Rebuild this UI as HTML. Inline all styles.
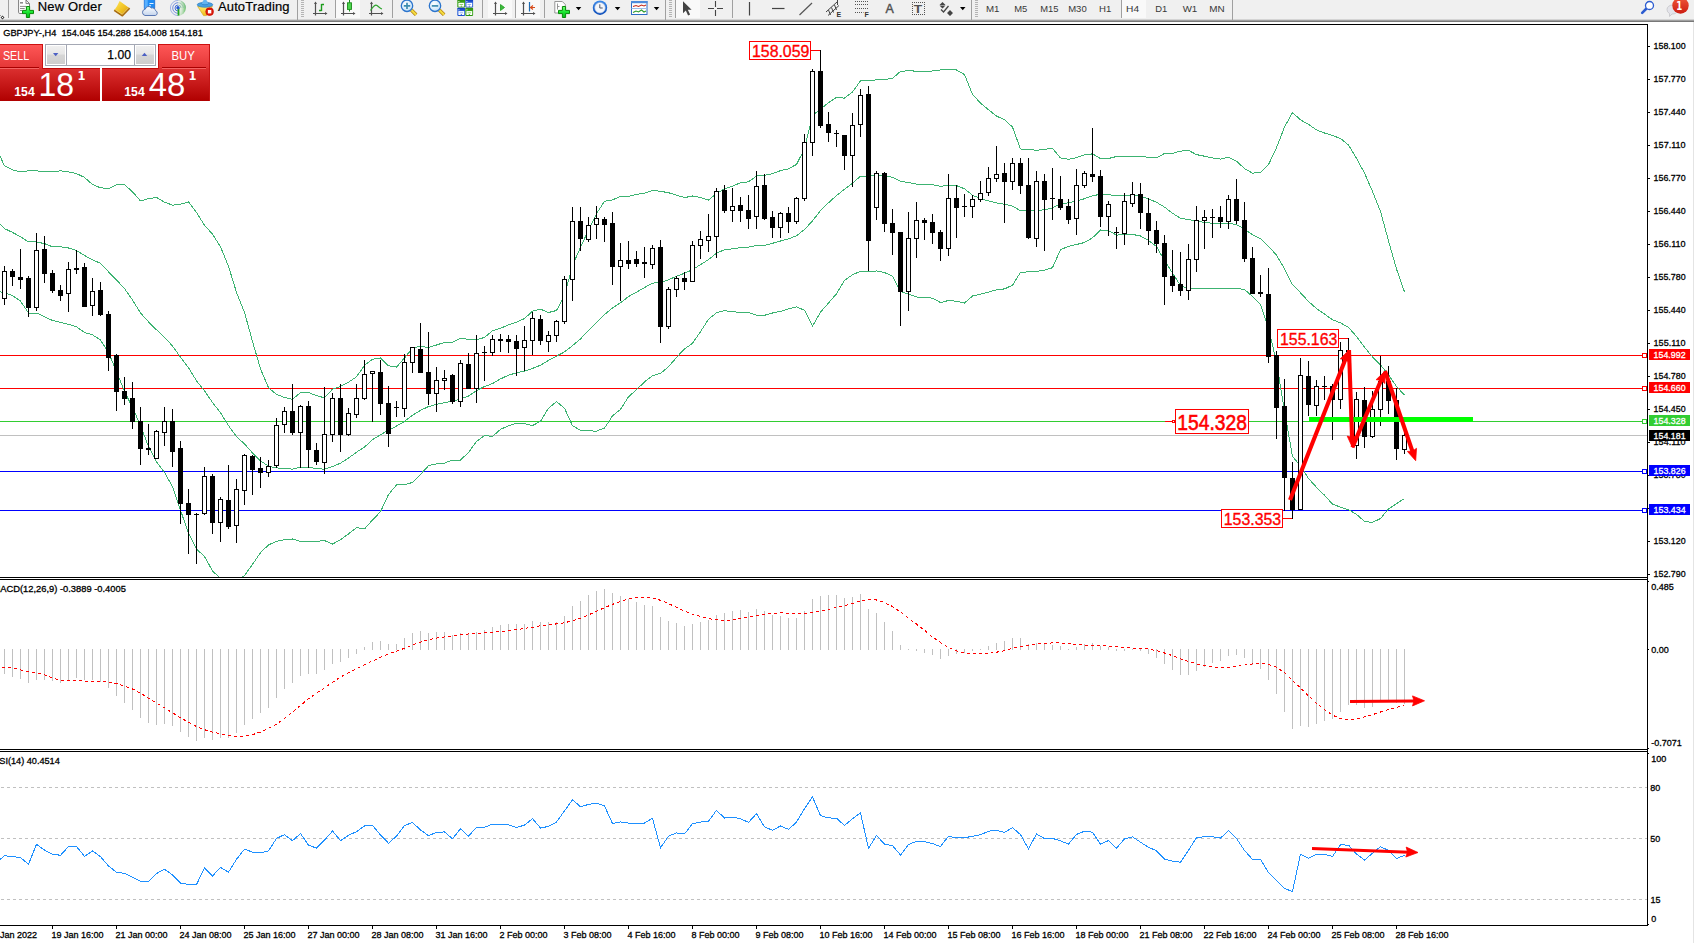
<!DOCTYPE html>
<html><head><meta charset="utf-8"><title>GBPJPY-,H4</title>
<style>
html,body{margin:0;padding:0;background:#fff;}
body{width:1694px;height:943px;overflow:hidden;position:relative;font-family:"Liberation Sans",sans-serif;font-size:9px;color:#000;}
#tb{position:absolute;left:0;top:0;width:1694px;height:24px;overflow:hidden;}
#tb text{font-family:"Liberation Sans",sans-serif;}
#ch{position:absolute;left:0;top:0;}
#ch text{font-family:"Liberation Sans",sans-serif;}
</style></head><body>
<div id="tb"><svg id="tbs" width="1694" height="24" viewBox="0 0 1694 24" style="position:absolute;left:0;top:0">
<defs><linearGradient id="gp" x1="0" y1="0" x2="0" y2="1"><stop offset="0" stop-color="#7cff7c"/><stop offset="0.5" stop-color="#18e830"/><stop offset="1" stop-color="#04b818"/></linearGradient><linearGradient id="gy" x1="0" y1="0" x2="1" y2="1"><stop offset="0" stop-color="#ffe85c"/><stop offset="0.55" stop-color="#f0c020"/><stop offset="1" stop-color="#c88c18"/></linearGradient><linearGradient id="gb" x1="0" y1="0" x2="0" y2="1"><stop offset="0" stop-color="#0c38b4"/><stop offset="0.4" stop-color="#2c64e0"/><stop offset="1" stop-color="#1c50d0"/></linearGradient><linearGradient id="gr" x1="0" y1="0" x2="0" y2="1"><stop offset="0" stop-color="#f0583a"/><stop offset="1" stop-color="#cc1c10"/></linearGradient><linearGradient id="gg" x1="0" y1="0" x2="0" y2="1"><stop offset="0" stop-color="#2c8c10"/><stop offset="0.4" stop-color="#3ca818"/><stop offset="1" stop-color="#2c9810"/></linearGradient><radialGradient id="gl" cx="0.4" cy="0.35" r="0.7"><stop offset="0" stop-color="#ffffff"/><stop offset="1" stop-color="#bfe0f8"/></radialGradient><linearGradient id="gc" x1="0" y1="0" x2="0" y2="1"><stop offset="0" stop-color="#ffffff"/><stop offset="1" stop-color="#c4d4ec"/></linearGradient><radialGradient id="gs" cx="0" cy="0.5" r="1"><stop offset="0" stop-color="#ffffff" stop-opacity="0"/><stop offset="1" stop-color="#48b448"/></radialGradient><linearGradient id="gf" x1="0" y1="0" x2="0" y2="1"><stop offset="0" stop-color="#ffec70"/><stop offset="1" stop-color="#f0bc18"/></linearGradient><linearGradient id="gb2" x1="0" y1="0" x2="0" y2="1"><stop offset="0" stop-color="#3c8cec"/><stop offset="1" stop-color="#0c4cb8"/></linearGradient></defs>
<rect x="0" y="0" width="1694" height="20" fill="#f0f0f0"/>
<rect x="0" y="19" width="1694" height="1" fill="#d4d4d4"/>
<rect x="0" y="20" width="1694" height="1" fill="#a0a0a0"/>
<rect x="0" y="21" width="1694" height="1" fill="#787878"/>
<rect x="0" y="22" width="1694" height="2" fill="#ffffff"/>
<rect x="336" y="0" width="24" height="18" fill="#f9f9f9"/>
<rect x="488" y="0" width="24" height="18" fill="#f9f9f9"/>
<rect x="516" y="0" width="24" height="18" fill="#f9f9f9"/>
<rect x="676" y="0" width="24" height="18" fill="#f9f9f9"/>
<rect x="1122" y="0" width="24" height="18" fill="#f9f9f9"/>
<rect x="8" y="0" width="1" height="18" fill="#a0a0a0"/>
<rect x="335" y="0" width="1" height="18" fill="#a0a0a0"/>
<rect x="392" y="0" width="1" height="18" fill="#a0a0a0"/>
<rect x="482" y="0" width="1" height="18" fill="#a0a0a0"/>
<rect x="515" y="0" width="1" height="18" fill="#a0a0a0"/>
<rect x="544" y="0" width="1" height="18" fill="#a0a0a0"/>
<rect x="675" y="0" width="1" height="18" fill="#a0a0a0"/>
<rect x="732" y="0" width="1" height="18" fill="#a0a0a0"/>
<rect x="1121" y="0" width="1" height="18" fill="#a0a0a0"/>
<rect x="297" y="0" width="1" height="20" fill="#a0a0a0"/>
<rect x="665" y="0" width="1" height="20" fill="#a0a0a0"/>
<rect x="971" y="0" width="1" height="20" fill="#a0a0a0"/>
<rect x="1232" y="0" width="1" height="20" fill="#a0a0a0"/>
<path d="M301 0h3v1h-3zM301 2h3v1h-3zM301 4h3v1h-3zM301 6h3v1h-3zM301 8h3v1h-3zM301 10h3v1h-3zM301 12h3v1h-3zM301 14h3v1h-3zM301 16h3v1h-3z" fill="#b4b4b4" shape-rendering="crispEdges"/>
<path d="M669 0h3v1h-3zM669 2h3v1h-3zM669 4h3v1h-3zM669 6h3v1h-3zM669 8h3v1h-3zM669 10h3v1h-3zM669 12h3v1h-3zM669 14h3v1h-3zM669 16h3v1h-3z" fill="#b4b4b4" shape-rendering="crispEdges"/>
<path d="M975 0h3v1h-3zM975 2h3v1h-3zM975 4h3v1h-3zM975 6h3v1h-3zM975 8h3v1h-3zM975 10h3v1h-3zM975 12h3v1h-3zM975 14h3v1h-3zM975 16h3v1h-3z" fill="#b4b4b4" shape-rendering="crispEdges"/>
<path d="M0 15l1 0 0 1zM2.5 15.5l2 2-2 2-2-2z" fill="#444"/><rect x="2" y="17" width="1" height="1" fill="#fff"/>
<path d="M18.600 -1V12.300Q18.600 13.500 19.800 13.500H27V6H29.600V3.600L26.200 0V-1z" fill="#fff"/>
<path d="M18.600 -1V12.300Q18.600 13.500 19.800 13.500H23M29.500 3.800V7M26 -1V3.600H29.500L26 0" fill="none" stroke="#7c7c7c" stroke-width="1"/>
<path d="M20 2h3v1.600h-3z" fill="#8c8c8c"/><path d="M20 6.400h6M20 8.500h4.700M20 10.500h2" stroke="#8c8c8c" stroke-width="1" fill="none"/>
<path d="M26.4 6.5h3.2v3.9h3.9v3.2h-3.9v3.9h-3.2v-3.9h-3.9v-3.2h3.9z" fill="url(#gp)" stroke="#078a07" stroke-width="1"/>
<text x="37.8" y="11.1" font-size="13" fill="#000" stroke="#000" stroke-width="0.2" textLength="64" lengthAdjust="spacing">New Order</text>
<path d="M119.600 1Q117.500 6 114.200 10.300L122.400 15.700L129.600 8.200z" fill="url(#gy)"/>
<path d="M114.200 10.300L122.400 15.700L129.600 8.200" fill="none" stroke="#a86c10" stroke-width="1.700" stroke-linejoin="round"/>
<path d="M115.300 9.800L122.300 14.300L128.300 8" fill="none" stroke="#f4d880" stroke-width="0.700"/>
<rect x="144.300" y="-1" width="10.400" height="10" rx="0.800" fill="#1e8cf4" stroke="#1460c8" stroke-width="0.700"/><path d="M144.700 -1h3v9.500h-3z" fill="#58b0ff"/><path d="M149.500 3.500h4M149 5.800h2" stroke="#e8f4ff" stroke-width="1"/>
<path d="M145 15.500a3.200 3.200 0 0 1 0.300-6.300a3.300 3.300 0 0 1 6-1.200a3.400 3.400 0 0 1 4.300 2.700a2.500 2.500 0 0 1-0.300 4.800z" fill="url(#gc)" stroke="#4c6cac" stroke-width="0.900"/>
<path d="M178 8L178 15.800A7.800 7.800 0 0 0 185.800 8A7.800 7.800 0 0 0 181 0.800z" fill="url(#gs)" opacity="0.85"/>
<path d="M178 0.40000000000000036A7.6 7.6 0 0 0 178 15.6" fill="none" stroke="#3c64d4" stroke-width="1" opacity="0.45"/>
<path d="M178 0.40000000000000036A7.6 7.6 0 0 1 185.6 8" fill="none" stroke="#7cb0a0" stroke-width="1" opacity="0.36"/>
<path d="M178 2.7A5.3 5.3 0 0 0 178 13.3" fill="none" stroke="#3c64d4" stroke-width="1" opacity="0.7"/>
<path d="M178 2.7A5.3 5.3 0 0 1 183.3 8" fill="none" stroke="#7cb0a0" stroke-width="1" opacity="0.56"/>
<path d="M178 5A3 3 0 0 0 178 11" fill="none" stroke="#3c64d4" stroke-width="1" opacity="0.9"/>
<path d="M178 5A3 3 0 0 1 181 8" fill="none" stroke="#7cb0a0" stroke-width="1" opacity="0.72"/>
<path d="M178.500 8V15.600" stroke="#20a420" stroke-width="1.800"/><circle cx="178" cy="7.800" r="1.700" fill="#2458d0"/>
<path d="M197.600 6.300L203.500 15.600H206.500L212.400 6.300z" fill="url(#gf)" stroke="#d0a010" stroke-width="0.600"/>
<ellipse cx="205" cy="4.800" rx="7.800" ry="2.500" fill="#48a0e0" stroke="#2474bc" stroke-width="0.600"/><path d="M201.800 4.500Q202.500 -0.500 205 -0.500T208.200 4.500z" fill="#64b4f0"/><path d="M201.400 3.500a3.600 1.300 0 0 0 7.200 0" fill="none" stroke="#2474bc" stroke-width="0.600"/>
<circle cx="209.600" cy="11.700" r="4.100" fill="#e01c0c"/><circle cx="209.600" cy="11.700" r="3.600" fill="none" stroke="#b81004" stroke-width="0.500"/><rect x="207.900" y="10" width="3.400" height="3.400" fill="#fff"/>
<text x="218" y="10.700" font-size="13" fill="#000" stroke="#000" stroke-width="0.2" textLength="71.500" lengthAdjust="spacing">AutoTrading</text>
<path d="M315.5 2.500V15.500M313 13.500H326.5" stroke="#505050" stroke-width="1.200" fill="none"/>
<path d="M314 4l1.500-2.500 1.500 2.500zM325 12l2.500 1.500-2.500 1.500z" fill="#505050"/>
<path d="M321.500 4v7M321.500 4.500h2.500M319 10.500h2.500" stroke="#1c9c1c" stroke-width="1.400" fill="none"/>
<path d="M343.5 2.500V15.500M341 13.500H354.5" stroke="#505050" stroke-width="1.200" fill="none"/>
<path d="M342 4l1.500-2.500 1.500 2.500zM353 12l2.500 1.500-2.500 1.500z" fill="#505050"/>
<path d="M349.500 0v11.500" stroke="#1c8c1c" stroke-width="1"/><rect x="347.500" y="2.800" width="4" height="6.600" fill="#4cd44c" stroke="#1c8c1c" stroke-width="0.9"/>
<path d="M371.5 2.500V15.500M369 13.500H382.5" stroke="#505050" stroke-width="1.200" fill="none"/>
<path d="M370 4l1.500-2.500 1.500 2.500zM381 12l2.500 1.500-2.500 1.500z" fill="#505050"/>
<path d="M370.500 10.500C373 6 375.500 4.500 377 5.500S380 8.500 382 9" stroke="#2ca42c" stroke-width="1.200" fill="none"/>
<path d="M411.3 10l4.800 4.700" stroke="#b07c0c" stroke-width="3.600" stroke-linecap="butt"/><path d="M411.3 10l4.800 4.700" stroke="#f4dc40" stroke-width="2.200" stroke-linecap="butt"/>
<circle cx="407" cy="5.800" r="5.700" fill="url(#gl)" stroke="#2c74cc" stroke-width="1.300"/>
<path d="M403.8 5.900h6.400M407 2.700v6.400" stroke="#3c8cb0" stroke-width="1.700"/>
<path d="M439.3 10l4.800 4.700" stroke="#b07c0c" stroke-width="3.600" stroke-linecap="butt"/><path d="M439.3 10l4.800 4.700" stroke="#f4dc40" stroke-width="2.200" stroke-linecap="butt"/>
<circle cx="435" cy="5.800" r="5.700" fill="url(#gl)" stroke="#2c74cc" stroke-width="1.300"/>
<path d="M431.8 5.900h6.400" stroke="#3c8cb0" stroke-width="1.700"/>
<rect x="457.3" y="-0.5" width="7.800" height="8.100" rx="0.800" fill="url(#gg)"/><rect x="458.40000000000003" y="2.8" width="5.800" height="3.900" fill="#fff"/><rect x="459.5" y="4.0" width="3.600" height="1" fill="#90d070"/><rect x="458.40000000000003" y="1.0" width="1" height="1" fill="#e8f0e8"/><rect x="460.8" y="5.7" width="1" height="1" fill="url(#gg)"/>
<rect x="465.3" y="-0.5" width="7.800" height="8.100" rx="0.800" fill="url(#gb)"/><rect x="466.40000000000003" y="2.8" width="5.800" height="3.900" fill="#fff"/><rect x="467.5" y="4.0" width="3.600" height="1" fill="#90b0f0"/><rect x="466.40000000000003" y="1.0" width="1" height="1" fill="#e8f0e8"/><rect x="468.8" y="5.7" width="1" height="1" fill="url(#gb)"/>
<rect x="457.3" y="7.8" width="7.800" height="8.100" rx="0.800" fill="url(#gb)"/><rect x="458.40000000000003" y="11.1" width="5.800" height="3.900" fill="#fff"/><rect x="459.5" y="12.3" width="3.600" height="1" fill="#90b0f0"/><rect x="458.40000000000003" y="9.3" width="1" height="1" fill="#e8f0e8"/><rect x="460.8" y="14.0" width="1" height="1" fill="url(#gb)"/>
<rect x="465.3" y="7.8" width="7.800" height="8.100" rx="0.800" fill="url(#gg)"/><rect x="466.40000000000003" y="11.1" width="5.800" height="3.900" fill="#fff"/><rect x="467.5" y="12.3" width="3.600" height="1" fill="#90d070"/><rect x="466.40000000000003" y="9.3" width="1" height="1" fill="#e8f0e8"/><rect x="468.8" y="14.0" width="1" height="1" fill="url(#gg)"/>
<path d="M495.5 2.500V15.500M493 13.500H506.5" stroke="#505050" stroke-width="1.200" fill="none"/>
<path d="M494 4l1.500-2.500 1.500 2.500zM505 12l2.500 1.500-2.500 1.500z" fill="#505050"/>
<path d="M500.500 4.500l4 3-4 3z" fill="#3cbc3c" stroke="#1c9c1c" stroke-width="0.8"/>
<path d="M523.5 2.500V15.500M521 13.500H534.5" stroke="#505050" stroke-width="1.200" fill="none"/>
<path d="M522 4l1.500-2.500 1.500 2.500zM533 12l2.500 1.500-2.500 1.500z" fill="#505050"/>
<path d="M529.500 2v9.500" stroke="#1c6cb4" stroke-width="1.200"/><path d="M530.500 7.500h4.500M533 5.500l-2.500 2 2.500 2" stroke="#d84c1c" stroke-width="1.200" fill="none"/>
<path d="M554.800 1.500h7.500l3 3v8.500h-10.500z" fill="#fff" stroke="#8c8c8c" stroke-width="0.9"/><path d="M557.500 3.500v6M557.500 6.500h2" stroke="#8c8c8c" stroke-width="0.9" fill="none"/>
<path d="M562.4 6.5h3.2v3.9h3.9v3.2h-3.9v3.9h-3.2v-3.9h-3.9v-3.2h3.9z" fill="url(#gp)" stroke="#078a07" stroke-width="1"/>
<path d="M575.8 7h5.500l-2.750 3.200z" fill="#000"/>
<circle cx="600" cy="7.700" r="7.200" fill="url(#gb2)"/><circle cx="600" cy="7.700" r="5.300" fill="#f4f6fa" stroke="#9cb4dc" stroke-width="0.600"/><path d="M599.800 4.300v3.700h2.900" stroke="#505868" stroke-width="1" fill="none"/>
<path d="M614.8 7h5.500l-2.750 3.200z" fill="#000"/>
<rect x="631.500" y="1.500" width="15.500" height="13" fill="#fff" stroke="#2c6cc4" stroke-width="1"/><rect x="631" y="1" width="16.500" height="2.200" fill="#4c8cdc"/><path d="M631.500 8.500h15.500" stroke="#9cbce8" stroke-width="1"/>
<path d="M633 6.500l3-1 2.500 1 3-1.500 2.500 1 2-1" stroke="#c42c1c" stroke-width="1.100" fill="none"/><path d="M633 12.500l3-1.500 2.500 1 3-2 2.500 2 2-1" stroke="#2c9c2c" stroke-width="1.100" fill="none"/>
<path d="M653.8 7h5.500l-2.750 3.200z" fill="#000"/>
<path d="M683 1.200v12l2.800-2.600 2.300 4.800 2-1-2.300-4.700h3.800z" fill="#444"/>
<path d="M708 8.500h6M717 8.500h6M715.500 1v6M715.500 10v6" stroke="#444" stroke-width="1.100" fill="none"/>
<path d="M749.500 2v13.500" stroke="#444" stroke-width="1.200"/><path d="M772 8.500h12.500" stroke="#444" stroke-width="1.200"/><path d="M799.500 15l12.500-12" stroke="#555" stroke-width="1.200"/>
<path d="M826 12l11-10M828 15.500l11-10M828.500 10l2 5M831.500 7.500l2 5M834.500 5l2 5M837.500 0v5" stroke="#444" stroke-width="1" fill="none"/>
<text x="836.500" y="17" font-size="7" font-weight="bold" fill="#333">E</text>
<path d="M855 1.5H868.5" stroke="#555" stroke-width="1" stroke-dasharray="1 1"/>
<path d="M855 4.5H868.5" stroke="#555" stroke-width="1" stroke-dasharray="1 1"/>
<path d="M855 8.5H868.5" stroke="#555" stroke-width="1" stroke-dasharray="1 1"/>
<path d="M855 12.5H863.5" stroke="#555" stroke-width="1" stroke-dasharray="1 1"/>
<text x="864.500" y="17" font-size="7" font-weight="bold" fill="#333">F</text>
<text x="885.500" y="12.800" font-size="12.500" fill="#505050" stroke="#505050" stroke-width="0.400" textLength="8.300" lengthAdjust="spacingAndGlyphs">A</text>
<path d="M912 2h1v1h-1zM912 14h1v1h-1zM914 2h1v1h-1zM914 14h1v1h-1zM916 2h1v1h-1zM916 14h1v1h-1zM918 2h1v1h-1zM918 14h1v1h-1zM920 2h1v1h-1zM920 14h1v1h-1zM922 2h1v1h-1zM922 14h1v1h-1zM924 2h1v1h-1zM924 14h1v1h-1zM912 4h1v1h-1zM924 4h1v1h-1zM912 6h1v1h-1zM924 6h1v1h-1zM912 8h1v1h-1zM924 8h1v1h-1zM912 10h1v1h-1zM924 10h1v1h-1zM912 12h1v1h-1zM924 12h1v1h-1z" fill="#555" shape-rendering="crispEdges"/><text x="913.800" y="13" font-size="11.500" font-weight="bold" fill="#505050" textLength="8.400" lengthAdjust="spacingAndGlyphs">T</text>
<path d="M942.500 2l3 3h-6zM942.500 8.500l-3-3h6z" fill="#444"/><path d="M950 10l3 3h-6zM950 16l-3-3h6z" fill="#444"/><path d="M941 9.500l2.500 2.500 5-6" stroke="#444" stroke-width="1.300" fill="none"/>
<path d="M960 7h5.500l-2.750 3.200z" fill="#000"/>
<text x="986.0" y="12" font-size="9.800" fill="#383838" textLength="13.5" lengthAdjust="spacingAndGlyphs">M1</text>
<text x="1014.2" y="12" font-size="9.800" fill="#383838" textLength="13.1" lengthAdjust="spacingAndGlyphs">M5</text>
<text x="1040.3" y="12" font-size="9.800" fill="#383838" textLength="18.2" lengthAdjust="spacingAndGlyphs">M15</text>
<text x="1068.2" y="12" font-size="9.800" fill="#383838" textLength="18.5" lengthAdjust="spacingAndGlyphs">M30</text>
<text x="1099.0" y="12" font-size="9.800" fill="#383838" textLength="12.3" lengthAdjust="spacingAndGlyphs">H1</text>
<text x="1126.1" y="12" font-size="9.800" fill="#383838" textLength="13.0" lengthAdjust="spacingAndGlyphs">H4</text>
<text x="1155.3" y="12" font-size="9.800" fill="#383838" textLength="12.0" lengthAdjust="spacingAndGlyphs">D1</text>
<text x="1182.7" y="12" font-size="9.800" fill="#383838" textLength="14.6" lengthAdjust="spacingAndGlyphs">W1</text>
<text x="1209.2" y="12" font-size="9.800" fill="#383838" textLength="15.4" lengthAdjust="spacingAndGlyphs">MN</text>
<path d="M1646.500 8.500l-4.300 4.300" stroke="#2c5cd0" stroke-width="2.600" stroke-linecap="round"/><circle cx="1649.500" cy="5.500" r="4" fill="#fff" stroke="#2c5cd0" stroke-width="1.300"/>
<path d="M1667 9.500a5.500 4.500 0 0 1 11 0a5.500 4.500 0 0 1-6 4.500l-2.500 2.500v-3a5.500 4.500 0 0 1-2.500-4z" fill="#e4e4ea" stroke="#c4c4c8" stroke-width="0.8"/>
<circle cx="1680.500" cy="5.500" r="8.200" fill="url(#gr)"/>
<text x="1676.300" y="9.900" font-size="12.500" font-weight="bold" fill="#fff" textLength="6" lengthAdjust="spacingAndGlyphs" style="font-family:'DejaVu Sans','Liberation Sans',sans-serif">1</text>
</svg></div>
<svg id="ch" width="1694" height="943" viewBox="0 0 1694 943" shape-rendering="crispEdges">
<rect x="0" y="24" width="1648" height="1" fill="#000"/>
<rect x="1647" y="24" width="1" height="902" fill="#000"/>
<rect x="0" y="577" width="1648" height="1" fill="#000"/>
<rect x="0" y="579" width="1648" height="1" fill="#000"/>
<rect x="0" y="749" width="1648" height="1" fill="#000"/>
<rect x="0" y="751" width="1648" height="1" fill="#000"/>
<rect x="0" y="925" width="1648" height="1" fill="#000"/>
<rect x="1693" y="22" width="1" height="921" fill="#e4e4e4"/>
<defs><clipPath id="cm"><rect x="0" y="25" width="1647" height="552"/></clipPath><clipPath id="c2"><rect x="0" y="580" width="1647" height="169"/></clipPath><clipPath id="c3"><rect x="0" y="752" width="1647" height="173"/></clipPath></defs>
<g clip-path="url(#cm)">
<rect x="0" y="355" width="1647" height="1" fill="#ff0000"/>
<rect x="0" y="388" width="1647" height="1" fill="#ff0000"/>
<rect x="0" y="421" width="1647" height="1" fill="#32cd32"/>
<rect x="0" y="471" width="1647" height="1" fill="#0000ff"/>
<rect x="0" y="510" width="1647" height="1" fill="#0000ff"/>
<rect x="0" y="435" width="1647" height="1" fill="#c0c0c0"/>
<polyline points="-3.5,148.5 4.5,165.9 12.5,169.9 20.5,171.8 28.5,170.8 36.5,170.8 44.5,171.8 52.5,171.8 60.5,170.8 68.5,171.8 76.5,173.6 84.5,177.4 92.5,184.5 100.5,187.8 108.5,188.6 116.5,184.6 124.5,184.6 132.5,191.8 140.5,200.9 148.5,198.6 156.5,197.5 164.5,202.1 172.5,205.2 180.5,204.2 188.5,201.9 196.5,212.5 204.5,225.3 212.5,234.1 220.5,246.8 228.5,266.3 236.5,292.3 244.5,312.5 252.5,341.4 260.5,368.9 268.5,387.6 276.5,394.5 284.5,397.4 292.5,399.3 300.5,392.5 308.5,392.5 316.5,395.7 324.5,397.8 332.5,389.1 340.5,386.4 348.5,382.2 356.5,376.8 364.5,365.4 372.5,359.2 380.5,357.9 388.5,365.8 396.5,367.1 404.5,358.0 412.5,348.2 420.5,346.2 428.5,347.6 436.5,345.0 444.5,342.4 452.5,342.4 460.5,338.1 468.5,339.5 476.5,339.8 484.5,337.4 492.5,330.7 500.5,328.3 508.5,324.8 516.5,322.2 524.5,318.6 532.5,311.2 540.5,309.2 548.5,312.5 556.5,310.5 564.5,295.6 572.5,265.5 580.5,247.4 588.5,230.1 596.5,213.7 604.5,201.3 612.5,200.0 620.5,196.2 628.5,196.3 636.5,194.4 644.5,193.3 652.5,190.4 660.5,191.3 668.5,192.7 676.5,195.1 684.5,197.6 692.5,196.0 700.5,197.5 708.5,200.0 716.5,193.6 724.5,188.7 732.5,186.2 740.5,182.7 748.5,181.8 756.5,176.1 764.5,175.3 772.5,173.7 780.5,170.6 788.5,168.9 796.5,164.4 804.5,149.0 812.5,115.3 820.5,109.2 828.5,102.7 836.5,97.4 844.5,98.1 852.5,91.9 860.5,80.9 868.5,80.6 876.5,79.9 884.5,79.5 892.5,78.5 900.5,71.4 908.5,70.7 916.5,71.2 924.5,71.2 932.5,71.0 940.5,70.0 948.5,69.8 956.5,70.0 964.5,74.6 972.5,94.4 980.5,103.0 988.5,109.7 996.5,116.1 1004.5,119.6 1012.5,127.1 1020.5,149.0 1028.5,149.1 1036.5,150.4 1044.5,149.3 1052.5,148.3 1060.5,158.0 1068.5,159.3 1076.5,157.7 1084.5,154.8 1092.5,153.9 1100.5,158.5 1108.5,158.5 1116.5,156.5 1124.5,156.4 1132.5,156.2 1140.5,156.5 1148.5,157.3 1156.5,158.0 1164.5,153.4 1172.5,153.3 1180.5,151.2 1188.5,150.4 1196.5,154.6 1204.5,156.2 1212.5,158.0 1220.5,159.1 1228.5,157.2 1236.5,161.2 1244.5,168.5 1252.5,173.1 1260.5,172.6 1268.5,164.6 1276.5,147.7 1284.5,127.1 1292.5,112.6 1300.5,119.8 1308.5,124.4 1316.5,129.9 1324.5,133.0 1332.5,135.5 1340.5,138.5 1348.5,145.1 1356.5,158.4 1364.5,173.1 1372.5,191.4 1380.5,211.3 1388.5,240.9 1396.5,269.0 1404.5,291.9" fill="none" stroke="#3cb371" stroke-width="1" />
<polyline points="-3.5,220.5 4.5,228.6 12.5,232.4 20.5,236.8 28.5,241.8 36.5,242.0 44.5,243.6 52.5,246.8 60.5,246.8 68.5,248.0 76.5,250.5 84.5,255.5 92.5,259.9 100.5,263.3 108.5,271.8 116.5,279.9 124.5,288.6 132.5,299.9 140.5,313.0 148.5,321.8 156.5,329.8 164.5,337.2 172.5,346.0 180.5,357.2 188.5,367.6 196.5,380.8 204.5,390.9 212.5,402.5 220.5,412.7 228.5,425.6 236.5,436.6 244.5,444.0 252.5,452.9 260.5,460.8 268.5,466.2 276.5,467.9 284.5,468.6 292.5,469.1 300.5,467.1 308.5,467.1 316.5,468.6 324.5,469.2 332.5,466.6 340.5,463.1 348.5,458.1 356.5,452.2 364.5,447.1 372.5,439.6 380.5,434.8 388.5,430.1 396.5,426.1 404.5,421.4 412.5,415.3 420.5,410.3 428.5,406.6 436.5,404.4 444.5,402.8 452.5,401.2 460.5,399.1 468.5,396.0 476.5,390.6 484.5,386.5 492.5,383.6 500.5,378.9 508.5,375.2 516.5,372.8 524.5,371.1 532.5,368.4 540.5,365.2 548.5,360.4 556.5,356.1 564.5,351.9 572.5,345.6 580.5,338.9 588.5,330.5 596.5,322.4 604.5,314.7 612.5,307.9 620.5,302.8 628.5,296.6 636.5,292.1 644.5,287.6 652.5,283.1 660.5,282.4 668.5,279.8 676.5,276.2 684.5,273.3 692.5,269.6 700.5,264.6 708.5,259.6 716.5,253.2 724.5,249.7 732.5,248.9 740.5,247.6 748.5,247.2 756.5,245.6 764.5,245.3 772.5,243.3 780.5,241.0 788.5,238.9 796.5,235.7 804.5,229.6 812.5,220.8 820.5,210.7 828.5,202.8 836.5,195.6 844.5,189.3 852.5,183.3 860.5,176.1 868.5,176.3 876.5,175.4 884.5,176.1 892.5,177.3 900.5,181.4 908.5,182.4 916.5,184.1 924.5,184.3 932.5,184.6 940.5,186.3 948.5,185.2 956.5,185.6 964.5,188.8 972.5,195.2 980.5,198.6 988.5,200.9 996.5,202.9 1004.5,204.2 1012.5,206.2 1020.5,210.7 1028.5,210.5 1036.5,210.9 1044.5,209.7 1052.5,208.0 1060.5,203.8 1068.5,202.8 1076.5,201.1 1084.5,198.7 1092.5,195.8 1100.5,194.2 1108.5,194.6 1116.5,195.8 1124.5,195.6 1132.5,195.3 1140.5,196.2 1148.5,198.8 1156.5,202.3 1164.5,207.1 1172.5,213.2 1180.5,218.4 1188.5,219.5 1196.5,221.4 1204.5,222.3 1212.5,223.3 1220.5,224.0 1228.5,223.0 1236.5,224.8 1244.5,229.0 1252.5,234.8 1260.5,238.7 1268.5,246.3 1276.5,255.1 1284.5,268.9 1292.5,284.6 1300.5,292.8 1308.5,301.4 1316.5,308.6 1324.5,314.1 1332.5,319.8 1340.5,322.8 1348.5,327.4 1356.5,336.4 1364.5,347.3 1372.5,356.9 1380.5,364.9 1388.5,374.9 1396.5,386.4 1404.5,395.2" fill="none" stroke="#3cb371" stroke-width="1" />
<polyline points="-3.5,290.5 4.5,293.0 12.5,295.5 20.5,301.1 28.5,313.0 36.5,313.0 44.5,316.8 52.5,320.5 60.5,322.4 68.5,324.3 76.5,326.8 84.5,332.4 92.5,334.9 100.5,340.0 108.5,352.5 116.5,371.5 124.5,391.5 132.5,407.5 140.5,425.5 148.5,446.5 156.5,462.0 164.5,472.4 172.5,486.8 180.5,510.2 188.5,533.2 196.5,549.0 204.5,556.5 212.5,570.9 220.5,578.6 228.5,584.8 236.5,580.8 244.5,575.5 252.5,564.4 260.5,552.7 268.5,544.9 276.5,541.4 284.5,539.8 292.5,539.0 300.5,541.6 308.5,541.6 316.5,541.4 324.5,540.6 332.5,544.0 340.5,539.8 348.5,533.9 356.5,527.7 364.5,528.9 372.5,520.0 380.5,511.7 388.5,494.5 396.5,485.0 404.5,484.8 412.5,482.4 420.5,474.4 428.5,465.7 436.5,463.8 444.5,463.1 452.5,460.0 460.5,460.0 468.5,452.5 476.5,441.4 484.5,435.6 492.5,436.4 500.5,429.4 508.5,425.7 516.5,423.3 524.5,423.5 532.5,425.6 540.5,421.3 548.5,408.2 556.5,401.6 564.5,408.2 572.5,425.7 580.5,430.4 588.5,430.9 596.5,431.1 604.5,428.1 612.5,415.9 620.5,409.4 628.5,396.8 636.5,389.7 644.5,381.9 652.5,375.7 660.5,373.4 668.5,366.8 676.5,357.4 684.5,349.0 692.5,343.3 700.5,331.7 708.5,319.3 716.5,312.7 724.5,310.7 732.5,311.7 740.5,312.4 748.5,312.6 756.5,315.1 764.5,315.3 772.5,313.0 780.5,311.4 788.5,308.9 796.5,306.9 804.5,310.2 812.5,326.2 820.5,312.2 828.5,303.0 836.5,293.8 844.5,280.5 852.5,274.7 860.5,271.3 868.5,272.0 876.5,270.9 884.5,272.6 892.5,276.2 900.5,291.4 908.5,294.1 916.5,297.0 924.5,297.4 932.5,298.1 940.5,302.6 948.5,300.5 956.5,301.2 964.5,303.0 972.5,296.0 980.5,294.2 988.5,292.1 996.5,289.8 1004.5,288.9 1012.5,285.2 1020.5,272.3 1028.5,271.9 1036.5,271.4 1044.5,270.1 1052.5,267.7 1060.5,249.6 1068.5,246.4 1076.5,244.5 1084.5,242.5 1092.5,237.8 1100.5,230.0 1108.5,230.6 1116.5,235.1 1124.5,234.7 1132.5,234.4 1140.5,236.0 1148.5,240.4 1156.5,246.6 1164.5,260.7 1172.5,273.0 1180.5,285.6 1188.5,288.6 1196.5,288.3 1204.5,288.5 1212.5,288.6 1220.5,288.9 1228.5,288.8 1236.5,288.3 1244.5,289.5 1252.5,296.6 1260.5,304.8 1268.5,328.0 1276.5,362.4 1284.5,410.6 1292.5,456.6 1300.5,465.7 1308.5,478.5 1316.5,487.3 1324.5,495.2 1332.5,504.1 1340.5,507.1 1348.5,509.7 1356.5,514.3 1364.5,521.5 1372.5,522.4 1380.5,518.5 1388.5,509.0 1396.5,503.7 1404.5,498.5" fill="none" stroke="#3cb371" stroke-width="1" />
<path d="M4 266h1v39h-1zM2 271h5v28h-5zM12 269h1v17h-1zM10 271h5v6h-5zM20 249h1v40h-1zM18 277h5v3h-5zM28 276h1v41h-1zM26 278h5v30h-5zM36 233h1v78h-1zM34 250h5v58h-5zM44 236h1v47h-1zM42 249h5v25h-5zM52 270h1v23h-1zM50 273h5v18h-5zM60 285h1v16h-1zM58 290h5v6h-5zM68 262h1v50h-1zM66 269h5v25h-5zM76 250h1v24h-1zM74 268h5v2h-5zM84 263h1v44h-1zM82 267h5v40h-5zM92 278h1v38h-1zM90 291h5v15h-5zM100 282h1v34h-1zM98 290h5v25h-5zM108 311h1v60h-1zM106 314h5v44h-5zM116 354h1v57h-1zM114 355h5v37h-5zM124 377h1v28h-1zM122 391h5v8h-5zM132 382h1v47h-1zM130 398h5v24h-5zM140 407h1v58h-1zM138 421h5v28h-5zM148 424h1v31h-1zM146 448h5v2h-5zM156 430h1v29h-1zM154 431h5v28h-5zM164 407h1v39h-1zM162 421h5v12h-5zM172 409h1v58h-1zM170 421h5v31h-5zM180 441h1v83h-1zM178 448h5v56h-5zM188 489h1v65h-1zM186 503h5v12h-5zM196 513h1v51h-1zM194 514h5v1h-5zM204 467h1v48h-1zM202 476h5v38h-5zM212 474h1v60h-1zM210 476h5v47h-5zM220 497h1v45h-1zM218 499h5v24h-5zM228 465h1v64h-1zM226 500h5v27h-5zM236 479h1v64h-1zM234 489h5v37h-5zM244 454h1v51h-1zM242 455h5v36h-5zM252 455h1v40h-1zM250 456h5v14h-5zM260 457h1v31h-1zM258 468h5v5h-5zM268 460h1v17h-1zM266 466h5v7h-5zM276 418h1v50h-1zM274 425h5v41h-5zM284 407h1v26h-1zM282 411h5v14h-5zM292 384h1v51h-1zM290 411h5v22h-5zM300 405h1v63h-1zM298 406h5v27h-5zM308 401h1v67h-1zM306 406h5v44h-5zM316 443h1v22h-1zM314 450h5v12h-5zM324 387h1v87h-1zM322 434h5v29h-5zM332 393h1v49h-1zM330 398h5v37h-5zM340 384h1v68h-1zM338 398h5v37h-5zM348 408h1v28h-1zM346 413h5v22h-5zM356 384h1v34h-1zM354 398h5v17h-5zM364 360h1v40h-1zM362 374h5v25h-5zM372 371h1v51h-1zM370 371h5v3h-5zM380 360h1v55h-1zM378 372h5v32h-5zM388 386h1v61h-1zM386 403h5v31h-5zM396 401h1v16h-1zM394 407h5v1h-5zM404 354h1v63h-1zM402 362h5v47h-5zM412 347h1v26h-1zM410 347h5v16h-5zM420 323h1v50h-1zM418 349h5v24h-5zM428 332h1v73h-1zM426 372h5v22h-5zM436 367h1v45h-1zM434 380h5v14h-5zM444 370h1v20h-1zM442 378h5v3h-5zM452 374h1v30h-1zM450 375h5v27h-5zM460 360h1v47h-1zM458 363h5v39h-5zM468 353h1v36h-1zM466 364h5v25h-5zM476 335h1v68h-1zM474 353h5v36h-5zM484 346h1v35h-1zM482 352h5v1h-5zM492 335h1v21h-1zM490 339h5v14h-5zM500 334h1v18h-1zM498 339h5v2h-5zM508 335h1v18h-1zM506 339h5v3h-5zM516 335h1v41h-1zM514 341h5v8h-5zM524 326h1v45h-1zM522 340h5v8h-5zM532 312h1v43h-1zM530 318h5v23h-5zM540 315h1v30h-1zM538 319h5v22h-5zM548 331h1v21h-1zM546 335h5v7h-5zM556 320h1v22h-1zM554 321h5v15h-5zM564 276h1v48h-1zM562 279h5v43h-5zM572 207h1v94h-1zM570 221h5v59h-5zM580 207h1v44h-1zM578 221h5v18h-5zM588 217h1v25h-1zM586 225h5v15h-5zM596 206h1v33h-1zM594 218h5v7h-5zM604 217h1v25h-1zM602 219h5v6h-5zM612 212h1v73h-1zM610 223h5v44h-5zM620 243h1v58h-1zM618 260h5v7h-5zM628 241h1v28h-1zM626 260h5v4h-5zM636 251h1v16h-1zM634 259h5v5h-5zM644 247h1v31h-1zM642 262h5v2h-5zM652 245h1v24h-1zM650 248h5v17h-5zM660 240h1v103h-1zM658 247h5v80h-5zM668 287h1v42h-1zM666 289h5v38h-5zM676 276h1v21h-1zM674 278h5v12h-5zM684 272h1v18h-1zM682 278h5v4h-5zM692 241h1v41h-1zM690 245h5v37h-5zM700 231h1v28h-1zM698 239h5v7h-5zM708 214h1v38h-1zM706 236h5v5h-5zM716 188h1v70h-1zM714 191h5v46h-5zM724 185h1v28h-1zM722 190h5v21h-5zM732 188h1v34h-1zM730 206h5v5h-5zM740 197h1v25h-1zM738 205h5v6h-5zM748 195h1v34h-1zM746 210h5v9h-5zM756 171h1v58h-1zM754 186h5v31h-5zM764 174h1v46h-1zM762 185h5v34h-5zM772 211h1v27h-1zM770 217h5v11h-5zM780 212h1v26h-1zM778 213h5v15h-5zM788 207h1v26h-1zM786 213h5v9h-5zM796 197h1v27h-1zM794 198h5v24h-5zM804 134h1v67h-1zM802 142h5v57h-5zM812 69h1v87h-1zM810 71h5v72h-5zM820 50h1v78h-1zM818 71h5v55h-5zM828 112h1v30h-1zM826 124h5v9h-5zM836 130h1v17h-1zM834 133h5v1h-5zM844 135h1v35h-1zM842 135h5v21h-5zM852 113h1v74h-1zM850 125h5v31h-5zM860 89h1v48h-1zM858 95h5v30h-5zM868 86h1v185h-1zM866 94h5v147h-5zM876 171h1v49h-1zM874 173h5v35h-5zM884 172h1v60h-1zM882 173h5v51h-5zM892 209h1v46h-1zM890 223h5v10h-5zM900 232h1v94h-1zM898 232h5v60h-5zM908 212h1v99h-1zM906 238h5v54h-5zM916 202h1v56h-1zM914 220h5v19h-5zM924 218h1v22h-1zM922 220h5v3h-5zM932 214h1v30h-1zM930 222h5v11h-5zM940 230h1v31h-1zM938 232h5v17h-5zM948 174h1v82h-1zM946 198h5v51h-5zM956 185h1v53h-1zM954 198h5v10h-5zM964 194h1v23h-1zM962 206h5v1h-5zM972 195h1v23h-1zM970 199h5v8h-5zM980 181h1v21h-1zM978 193h5v7h-5zM988 167h1v29h-1zM986 178h5v15h-5zM996 146h1v36h-1zM994 174h5v5h-5zM1004 163h1v60h-1zM1002 173h5v9h-5zM1012 158h1v32h-1zM1010 163h5v19h-5zM1020 158h1v36h-1zM1018 163h5v23h-5zM1028 158h1v81h-1zM1026 185h5v53h-5zM1036 171h1v76h-1zM1034 181h5v58h-5zM1044 174h1v77h-1zM1042 181h5v19h-5zM1052 168h1v52h-1zM1050 198h5v1h-5zM1060 176h1v34h-1zM1058 199h5v9h-5zM1068 199h1v25h-1zM1066 206h5v14h-5zM1076 169h1v66h-1zM1074 185h5v34h-5zM1084 171h1v17h-1zM1082 173h5v13h-5zM1092 128h1v54h-1zM1090 174h5v3h-5zM1100 170h1v57h-1zM1098 176h5v41h-5zM1108 201h1v35h-1zM1106 204h5v13h-5zM1116 227h1v22h-1zM1114 232h5v1h-5zM1124 193h1v52h-1zM1122 201h5v33h-5zM1132 182h1v25h-1zM1130 194h5v10h-5zM1140 183h1v46h-1zM1138 194h5v19h-5zM1148 198h1v47h-1zM1146 213h5v18h-5zM1156 221h1v32h-1zM1154 230h5v14h-5zM1164 235h1v70h-1zM1162 243h5v34h-5zM1172 250h1v42h-1zM1170 276h5v10h-5zM1180 252h1v44h-1zM1178 284h5v7h-5zM1188 244h1v56h-1zM1186 259h5v32h-5zM1196 206h1v66h-1zM1194 220h5v40h-5zM1204 210h1v39h-1zM1202 217h5v4h-5zM1212 209h1v29h-1zM1210 217h5v1h-5zM1220 206h1v22h-1zM1218 217h5v5h-5zM1228 195h1v34h-1zM1226 199h5v23h-5zM1236 179h1v45h-1zM1234 199h5v22h-5zM1244 202h1v60h-1zM1242 220h5v39h-5zM1252 247h1v47h-1zM1250 258h5v36h-5zM1260 275h1v22h-1zM1258 292h5v2h-5zM1268 268h1v95h-1zM1266 294h5v63h-5zM1276 351h1v88h-1zM1274 355h5v53h-5zM1284 379h1v132h-1zM1282 406h5v72h-5zM1292 462h1v57h-1zM1290 478h5v32h-5zM1300 358h1v152h-1zM1298 375h5v135h-5zM1308 361h1v55h-1zM1306 376h5v29h-5zM1316 380h1v36h-1zM1314 386h5v20h-5zM1324 376h1v24h-1zM1322 386h5v1h-5zM1332 384h1v56h-1zM1330 386h5v14h-5zM1340 342h1v67h-1zM1338 350h5v50h-5zM1348 338h1v14h-1zM1346 350h5v2h-5zM1356 392h1v67h-1zM1354 399h5v47h-5zM1364 387h1v61h-1zM1362 400h5v37h-5zM1372 391h1v47h-1zM1370 409h5v28h-5zM1380 356h1v70h-1zM1378 381h5v29h-5zM1388 366h1v48h-1zM1386 381h5v20h-5zM1396 388h1v72h-1zM1394 400h5v49h-5zM1404 425h1v29h-1zM1402 435h5v15h-5z" fill="#000"/>
<path d="M3 272h3v26h-3zM35 251h3v56h-3zM67 270h3v23h-3zM91 292h3v13h-3zM155 432h3v26h-3zM163 422h3v10h-3zM203 477h3v36h-3zM219 500h3v22h-3zM235 490h3v35h-3zM243 456h3v34h-3zM267 467h3v5h-3zM275 426h3v39h-3zM283 412h3v12h-3zM299 407h3v25h-3zM323 435h3v27h-3zM331 399h3v35h-3zM347 414h3v20h-3zM355 399h3v15h-3zM363 375h3v23h-3zM371 372h3v1h-3zM403 363h3v45h-3zM411 348h3v14h-3zM435 381h3v12h-3zM443 379h3v1h-3zM459 364h3v37h-3zM475 354h3v34h-3zM491 340h3v12h-3zM523 341h3v6h-3zM531 319h3v21h-3zM547 336h3v5h-3zM555 322h3v13h-3zM563 280h3v41h-3zM571 222h3v57h-3zM587 226h3v13h-3zM595 219h3v5h-3zM619 261h3v5h-3zM651 249h3v15h-3zM667 290h3v36h-3zM675 279h3v10h-3zM691 246h3v35h-3zM699 240h3v5h-3zM707 237h3v3h-3zM715 192h3v44h-3zM731 207h3v3h-3zM755 187h3v29h-3zM779 214h3v13h-3zM795 199h3v22h-3zM803 143h3v55h-3zM811 72h3v70h-3zM851 126h3v29h-3zM859 96h3v28h-3zM875 174h3v33h-3zM907 239h3v52h-3zM915 221h3v17h-3zM947 199h3v49h-3zM971 200h3v6h-3zM979 194h3v5h-3zM987 179h3v13h-3zM995 175h3v3h-3zM1011 164h3v17h-3zM1035 182h3v56h-3zM1075 186h3v32h-3zM1083 174h3v11h-3zM1107 205h3v11h-3zM1123 202h3v31h-3zM1131 195h3v8h-3zM1187 260h3v30h-3zM1195 221h3v38h-3zM1203 218h3v2h-3zM1227 200h3v21h-3zM1299 376h3v133h-3zM1315 387h3v18h-3zM1339 351h3v48h-3zM1355 400h3v45h-3zM1371 410h3v26h-3zM1379 382h3v27h-3zM1403 436h3v13h-3z" fill="#fff"/>
<rect x="1642" y="353" width="5" height="5" fill="#ff0000"/>
<rect x="1643" y="354" width="3" height="3" fill="#fff"/>
<rect x="1642" y="386" width="5" height="5" fill="#ff0000"/>
<rect x="1643" y="387" width="3" height="3" fill="#fff"/>
<rect x="1642" y="419" width="5" height="5" fill="#32cd32"/>
<rect x="1643" y="420" width="3" height="3" fill="#fff"/>
<rect x="1642" y="469" width="5" height="5" fill="#0000ff"/>
<rect x="1643" y="470" width="3" height="3" fill="#fff"/>
<rect x="1642" y="508" width="5" height="5" fill="#0000ff"/>
<rect x="1643" y="509" width="3" height="3" fill="#fff"/>
<rect x="1309" y="417" width="164" height="5" fill="#00ff00"/>
</g>
<rect x="749.5" y="41.5" width="61" height="18" fill="#fff" stroke="#ff0000" stroke-width="1"/>
<text x="752" y="57" font-size="16.5" fill="#ff0000" stroke="#ff0000" stroke-width="0.35" textLength="57.3" lengthAdjust="spacingAndGlyphs">158.059</text>
<rect x="811" y="50" width="9" height="1" fill="#ff0000"/>
<rect x="1277.5" y="329.5" width="61" height="18" fill="#fff" stroke="#ff0000" stroke-width="1"/>
<text x="1280" y="345" font-size="16.5" fill="#ff0000" stroke="#ff0000" stroke-width="0.35" textLength="57.3" lengthAdjust="spacingAndGlyphs">155.163</text>
<rect x="1339" y="338" width="9" height="1" fill="#ff0000"/>
<rect x="1221.5" y="509.5" width="61" height="18" fill="#fff" stroke="#ff0000" stroke-width="1"/>
<text x="1223.8" y="525" font-size="16.5" fill="#ff0000" stroke="#ff0000" stroke-width="0.35" textLength="57.3" lengthAdjust="spacingAndGlyphs">153.353</text>
<rect x="1283" y="518" width="9" height="1" fill="#ff0000"/>
<rect x="1175.5" y="409.5" width="73" height="24" fill="#fff" stroke="#ff0000" stroke-width="1"/>
<text x="1177.3" y="429.9" font-size="22.5" fill="#ff0000" stroke="#ff0000" stroke-width="0.6" textLength="69.6" lengthAdjust="spacingAndGlyphs">154.328</text>
<rect x="1165" y="421" width="7" height="1" fill="#ff0000"/>
<rect x="1172" y="420" width="3" height="3" fill="#ff0000"/>
<rect x="1173" y="421" width="1" height="1" fill="#fff"/>
<g shape-rendering="geometricPrecision"><line x1="1290" y1="500" x2="1345.9" y2="357.9" stroke="#ff0000" stroke-width="4.1"/><polygon points="1349,350 1349.3,362.5 1345.3,359.3 1340.3,358.9" fill="#ff0000" stroke="#ff0000" stroke-width="0.8" stroke-linejoin="round"/></g>
<g shape-rendering="geometricPrecision"><line x1="1349" y1="350" x2="1352.1" y2="438.9" stroke="#ff0000" stroke-width="4.1"/><polygon points="1352.4,447.4 1347.2,436.1 1352.1,437.4 1356.8,435.7" fill="#ff0000" stroke="#ff0000" stroke-width="0.8" stroke-linejoin="round"/></g>
<g shape-rendering="geometricPrecision"><line x1="1352.4" y1="447.4" x2="1381.7" y2="378.8" stroke="#ff0000" stroke-width="4.1"/><polygon points="1385,371 1384.9,383.5 1381.1,380.2 1376.1,379.7" fill="#ff0000" stroke="#ff0000" stroke-width="0.8" stroke-linejoin="round"/></g>
<g shape-rendering="geometricPrecision"><line x1="1385" y1="371" x2="1412.9" y2="452.7" stroke="#ff0000" stroke-width="4.1"/><polygon points="1415.7,460.7 1407.4,451.4 1412.5,451.2 1416.5,448.3" fill="#ff0000" stroke="#ff0000" stroke-width="0.8" stroke-linejoin="round"/></g>
<rect x="1648" y="46" width="2" height="1" fill="#000"/>
<text x="1653.6" y="49.2" font-size="9.5" fill="#000" stroke="#000" stroke-width="0.3" text-anchor="start" textLength="32" lengthAdjust="spacingAndGlyphs">158.100</text>
<rect x="1648" y="79" width="2" height="1" fill="#000"/>
<text x="1653.6" y="82.2" font-size="9.5" fill="#000" stroke="#000" stroke-width="0.3" text-anchor="start" textLength="32" lengthAdjust="spacingAndGlyphs">157.770</text>
<rect x="1648" y="112" width="2" height="1" fill="#000"/>
<text x="1653.6" y="115.2" font-size="9.5" fill="#000" stroke="#000" stroke-width="0.3" text-anchor="start" textLength="32" lengthAdjust="spacingAndGlyphs">157.440</text>
<rect x="1648" y="145" width="2" height="1" fill="#000"/>
<text x="1653.6" y="148.2" font-size="9.5" fill="#000" stroke="#000" stroke-width="0.3" text-anchor="start" textLength="32" lengthAdjust="spacingAndGlyphs">157.110</text>
<rect x="1648" y="178" width="2" height="1" fill="#000"/>
<text x="1653.6" y="181.2" font-size="9.5" fill="#000" stroke="#000" stroke-width="0.3" text-anchor="start" textLength="32" lengthAdjust="spacingAndGlyphs">156.770</text>
<rect x="1648" y="211" width="2" height="1" fill="#000"/>
<text x="1653.6" y="214.2" font-size="9.5" fill="#000" stroke="#000" stroke-width="0.3" text-anchor="start" textLength="32" lengthAdjust="spacingAndGlyphs">156.440</text>
<rect x="1648" y="244" width="2" height="1" fill="#000"/>
<text x="1653.6" y="247.2" font-size="9.5" fill="#000" stroke="#000" stroke-width="0.3" text-anchor="start" textLength="32" lengthAdjust="spacingAndGlyphs">156.110</text>
<rect x="1648" y="277" width="2" height="1" fill="#000"/>
<text x="1653.6" y="280.2" font-size="9.5" fill="#000" stroke="#000" stroke-width="0.3" text-anchor="start" textLength="32" lengthAdjust="spacingAndGlyphs">155.780</text>
<rect x="1648" y="310" width="2" height="1" fill="#000"/>
<text x="1653.6" y="313.2" font-size="9.5" fill="#000" stroke="#000" stroke-width="0.3" text-anchor="start" textLength="32" lengthAdjust="spacingAndGlyphs">155.440</text>
<rect x="1648" y="343" width="2" height="1" fill="#000"/>
<text x="1653.6" y="346.2" font-size="9.5" fill="#000" stroke="#000" stroke-width="0.3" text-anchor="start" textLength="32" lengthAdjust="spacingAndGlyphs">155.110</text>
<rect x="1648" y="376" width="2" height="1" fill="#000"/>
<text x="1653.6" y="379.2" font-size="9.5" fill="#000" stroke="#000" stroke-width="0.3" text-anchor="start" textLength="32" lengthAdjust="spacingAndGlyphs">154.780</text>
<rect x="1648" y="409" width="2" height="1" fill="#000"/>
<text x="1653.6" y="412.2" font-size="9.5" fill="#000" stroke="#000" stroke-width="0.3" text-anchor="start" textLength="32" lengthAdjust="spacingAndGlyphs">154.450</text>
<rect x="1648" y="442" width="2" height="1" fill="#000"/>
<text x="1653.6" y="445.2" font-size="9.5" fill="#000" stroke="#000" stroke-width="0.3" text-anchor="start" textLength="32" lengthAdjust="spacingAndGlyphs">154.110</text>
<rect x="1648" y="475" width="2" height="1" fill="#000"/>
<text x="1653.6" y="478.2" font-size="9.5" fill="#000" stroke="#000" stroke-width="0.3" text-anchor="start" textLength="32" lengthAdjust="spacingAndGlyphs">153.780</text>
<rect x="1648" y="508" width="2" height="1" fill="#000"/>
<text x="1653.6" y="511.2" font-size="9.5" fill="#000" stroke="#000" stroke-width="0.3" text-anchor="start" textLength="32" lengthAdjust="spacingAndGlyphs">153.450</text>
<rect x="1648" y="541" width="2" height="1" fill="#000"/>
<text x="1653.6" y="544.2" font-size="9.5" fill="#000" stroke="#000" stroke-width="0.3" text-anchor="start" textLength="32" lengthAdjust="spacingAndGlyphs">153.120</text>
<rect x="1648" y="574" width="2" height="1" fill="#000"/>
<text x="1653.6" y="577.2" font-size="9.5" fill="#000" stroke="#000" stroke-width="0.3" text-anchor="start" textLength="32" lengthAdjust="spacingAndGlyphs">152.790</text>
<rect x="1649" y="349" width="41" height="11" fill="#ff0000"/>
<text x="1653.6" y="357.7" font-size="9.5" fill="#fff" stroke="#fff" stroke-width="0.3" text-anchor="start" textLength="32" lengthAdjust="spacingAndGlyphs">154.992</text>
<rect x="1649" y="382" width="41" height="11" fill="#ff0000"/>
<text x="1653.6" y="390.7" font-size="9.5" fill="#fff" stroke="#fff" stroke-width="0.3" text-anchor="start" textLength="32" lengthAdjust="spacingAndGlyphs">154.660</text>
<rect x="1649" y="415" width="41" height="11" fill="#32cd32"/>
<text x="1653.6" y="423.7" font-size="9.5" fill="#fff" stroke="#fff" stroke-width="0.3" text-anchor="start" textLength="32" lengthAdjust="spacingAndGlyphs">154.328</text>
<rect x="1649" y="465" width="41" height="11" fill="#0000ff"/>
<text x="1653.6" y="473.7" font-size="9.5" fill="#fff" stroke="#fff" stroke-width="0.3" text-anchor="start" textLength="32" lengthAdjust="spacingAndGlyphs">153.826</text>
<rect x="1649" y="504" width="41" height="11" fill="#0000ff"/>
<text x="1653.6" y="512.7" font-size="9.5" fill="#fff" stroke="#fff" stroke-width="0.3" text-anchor="start" textLength="32" lengthAdjust="spacingAndGlyphs">153.434</text>
<rect x="1649" y="430" width="41" height="11" fill="#000000"/>
<text x="1653.6" y="438.7" font-size="9.5" fill="#fff" stroke="#fff" stroke-width="0.3" text-anchor="start" textLength="32" lengthAdjust="spacingAndGlyphs">154.181</text>
<g clip-path="url(#c2)">
<path d="M4 649h1v25h-1zM12 649h1v28h-1zM20 649h1v30h-1zM28 649h1v34h-1zM36 649h1v31h-1zM44 649h1v31h-1zM52 649h1v32h-1zM60 649h1v34h-1zM68 649h1v31h-1zM76 649h1v29h-1zM84 649h1v31h-1zM92 649h1v31h-1zM100 649h1v33h-1zM108 649h1v39h-1zM116 649h1v47h-1zM124 649h1v54h-1zM132 649h1v61h-1zM140 649h1v69h-1zM148 649h1v74h-1zM156 649h1v76h-1zM164 649h1v75h-1zM172 649h1v77h-1zM180 649h1v83h-1zM188 649h1v88h-1zM196 649h1v92h-1zM204 649h1v89h-1zM212 649h1v91h-1zM220 649h1v89h-1zM228 649h1v89h-1zM236 649h1v84h-1zM244 649h1v76h-1zM252 649h1v70h-1zM260 649h1v64h-1zM268 649h1v59h-1zM276 649h1v49h-1zM284 649h1v40h-1zM292 649h1v34h-1zM300 649h1v27h-1zM308 649h1v25h-1zM316 649h1v25h-1zM324 649h1v21h-1zM332 649h1v15h-1zM340 649h1v13h-1zM348 649h1v9h-1zM356 649h1v5h-1zM364 647h1v3h-1zM372 642h1v8h-1zM380 641h1v9h-1zM388 644h1v6h-1zM396 644h1v6h-1zM404 638h1v12h-1zM412 633h1v17h-1zM420 631h1v19h-1zM428 633h1v17h-1zM436 632h1v18h-1zM444 632h1v18h-1zM452 635h1v15h-1zM460 633h1v17h-1zM468 634h1v16h-1zM476 632h1v18h-1zM484 630h1v20h-1zM492 627h1v23h-1zM500 625h1v25h-1zM508 624h1v26h-1zM516 624h1v26h-1zM524 624h1v26h-1zM532 621h1v29h-1zM540 622h1v28h-1zM548 622h1v28h-1zM556 622h1v28h-1zM564 616h1v34h-1zM572 606h1v44h-1zM580 601h1v49h-1zM588 595h1v55h-1zM596 591h1v59h-1zM604 589h1v61h-1zM612 593h1v57h-1zM620 596h1v54h-1zM628 599h1v51h-1zM636 602h1v48h-1zM644 605h1v45h-1zM652 606h1v44h-1zM660 617h1v33h-1zM668 621h1v29h-1zM676 623h1v27h-1zM684 626h1v24h-1zM692 624h1v26h-1zM700 622h1v28h-1zM708 620h1v30h-1zM716 615h1v35h-1zM724 613h1v37h-1zM732 611h1v39h-1zM740 610h1v40h-1zM748 612h1v38h-1zM756 609h1v41h-1zM764 611h1v39h-1zM772 615h1v35h-1zM780 616h1v34h-1zM788 618h1v32h-1zM796 618h1v32h-1zM804 611h1v39h-1zM812 599h1v51h-1zM820 596h1v54h-1zM828 595h1v55h-1zM836 595h1v55h-1zM844 598h1v52h-1zM852 597h1v53h-1zM860 594h1v56h-1zM868 609h1v41h-1zM876 613h1v37h-1zM884 622h1v28h-1zM892 631h1v19h-1zM900 645h1v5h-1zM908 649h1v1h-1zM916 649h1v2h-1zM924 649h1v4h-1zM932 649h1v6h-1zM940 649h1v10h-1zM948 649h1v7h-1zM956 649h1v5h-1zM964 649h1v4h-1zM972 649h1v2h-1zM980 649h1v1h-1zM988 646h1v4h-1zM996 643h1v7h-1zM1004 641h1v9h-1zM1012 638h1v12h-1zM1020 638h1v12h-1zM1028 644h1v6h-1zM1036 643h1v7h-1zM1044 644h1v6h-1zM1052 645h1v5h-1zM1060 646h1v4h-1zM1068 649h1v1h-1zM1076 647h1v3h-1zM1084 644h1v6h-1zM1092 643h1v7h-1zM1100 646h1v4h-1zM1108 647h1v3h-1zM1116 649h1v2h-1zM1124 649h1v2h-1zM1132 649h1v1h-1zM1140 649h1v2h-1zM1148 649h1v5h-1zM1156 649h1v9h-1zM1164 649h1v15h-1zM1172 649h1v21h-1zM1180 649h1v26h-1zM1188 649h1v26h-1zM1196 649h1v22h-1zM1204 649h1v18h-1zM1212 649h1v14h-1zM1220 649h1v12h-1zM1228 649h1v7h-1zM1236 649h1v6h-1zM1244 649h1v9h-1zM1252 649h1v16h-1zM1260 649h1v20h-1zM1268 649h1v31h-1zM1276 649h1v45h-1zM1284 649h1v63h-1zM1292 649h1v80h-1zM1300 649h1v77h-1zM1308 649h1v78h-1zM1316 649h1v75h-1zM1324 649h1v72h-1zM1332 649h1v70h-1zM1340 649h1v63h-1zM1348 649h1v56h-1zM1356 649h1v56h-1zM1364 649h1v59h-1zM1372 649h1v58h-1zM1380 649h1v53h-1zM1388 649h1v51h-1zM1396 649h1v54h-1zM1404 649h1v55h-1z" fill="#c0c0c0"/>
<polyline points="-3.5,666.5 4.5,667.9 12.5,667.9 20.5,669.9 28.5,671.5 36.5,672.9 44.5,674.9 52.5,677.9 60.5,680.3 68.5,680.2 76.5,680.7 84.5,681.1 92.5,681.2 100.5,681.1 108.5,681.9 116.5,683.7 124.5,686.0 132.5,689.0 140.5,693.1 148.5,698.1 156.5,703.1 164.5,707.9 172.5,712.8 180.5,717.7 188.5,722.3 196.5,726.5 204.5,729.7 212.5,732.1 220.5,733.8 228.5,735.3 236.5,736.3 244.5,736.2 252.5,734.7 260.5,732.0 268.5,728.4 276.5,724.0 284.5,718.4 292.5,712.3 300.5,705.4 308.5,698.8 316.5,693.2 324.5,687.8 332.5,682.3 340.5,677.1 348.5,672.7 356.5,668.8 364.5,664.7 372.5,661.0 380.5,657.3 388.5,654.1 396.5,651.1 404.5,648.3 412.5,645.1 420.5,642.1 428.5,639.7 436.5,638.1 444.5,637.0 452.5,636.3 460.5,635.0 468.5,634.0 476.5,633.2 484.5,632.9 492.5,632.4 500.5,631.5 508.5,630.6 516.5,629.7 524.5,628.4 532.5,627.2 540.5,625.8 548.5,624.8 556.5,623.9 564.5,622.8 572.5,620.7 580.5,618.1 588.5,614.9 596.5,611.3 604.5,607.7 612.5,604.4 620.5,601.5 628.5,599.0 636.5,597.4 644.5,597.3 652.5,597.9 660.5,600.3 668.5,603.6 676.5,607.4 684.5,611.0 692.5,614.1 700.5,616.6 708.5,618.7 716.5,619.7 724.5,620.4 732.5,619.8 740.5,618.6 748.5,617.3 756.5,615.5 764.5,614.2 772.5,613.3 780.5,612.8 788.5,613.2 796.5,613.8 804.5,613.9 812.5,612.6 820.5,610.8 828.5,609.3 836.5,607.4 844.5,605.6 852.5,603.5 860.5,600.8 868.5,599.9 876.5,600.0 884.5,602.6 892.5,606.5 900.5,612.1 908.5,618.2 916.5,624.1 924.5,630.3 932.5,637.0 940.5,642.5 948.5,647.3 956.5,650.8 964.5,653.3 972.5,654.0 980.5,653.9 988.5,653.3 996.5,652.2 1004.5,650.7 1012.5,648.4 1020.5,646.5 1028.5,645.4 1036.5,644.2 1044.5,643.4 1052.5,642.9 1060.5,643.0 1068.5,643.6 1076.5,644.3 1084.5,645.0 1092.5,645.5 1100.5,645.6 1108.5,646.1 1116.5,646.9 1124.5,647.6 1132.5,648.1 1140.5,648.3 1148.5,649.1 1156.5,650.6 1164.5,653.0 1172.5,655.7 1180.5,658.9 1188.5,661.5 1196.5,663.8 1204.5,665.6 1212.5,667.0 1220.5,667.7 1228.5,667.5 1236.5,666.5 1244.5,665.1 1252.5,664.0 1260.5,663.3 1268.5,664.3 1276.5,667.3 1284.5,672.7 1292.5,680.3 1300.5,688.1 1308.5,696.0 1316.5,703.3 1324.5,709.6 1332.5,715.1 1340.5,718.7 1348.5,720.0 1356.5,719.2 1364.5,716.9 1372.5,714.7 1380.5,712.0 1388.5,709.4 1396.5,707.4 1404.5,705.6" fill="none" stroke="#ff0000" stroke-width="1" stroke-dasharray="3 3"/>
</g>
<g shape-rendering="geometricPrecision"><line x1="1350" y1="701.5" x2="1415.5" y2="700.9" stroke="#ff0000" stroke-width="3"/><polygon points="1424.5,700.8 1412.5,705.9 1414.0,700.9 1412.5,695.9" fill="#ff0000" stroke="#ff0000" stroke-width="0.8" stroke-linejoin="round"/></g>
<rect x="1648" y="581" width="1" height="1" fill="#000"/>
<rect x="1648" y="649" width="1" height="1" fill="#000"/>
<rect x="1648" y="748" width="1" height="1" fill="#000"/>
<text x="1651.2" y="589.7" font-size="9.5" fill="#000" stroke="#000" stroke-width="0.3" text-anchor="start" textLength="22.6" lengthAdjust="spacingAndGlyphs">0.485</text>
<text x="1651.2" y="652.8" font-size="9.5" fill="#000" stroke="#000" stroke-width="0.3" text-anchor="start" textLength="17.6" lengthAdjust="spacingAndGlyphs">0.00</text>
<text x="1651.2" y="745.5" font-size="9.5" fill="#000" stroke="#000" stroke-width="0.3" text-anchor="start" textLength="30.6" lengthAdjust="spacingAndGlyphs">-0.7071</text>
<g clip-path="url(#c3)">
<line x1="0" y1="787.5" x2="1647" y2="787.5" stroke="#c0c0c0" stroke-width="1" stroke-dasharray="3 3" stroke-dashoffset="-1"/>
<line x1="0" y1="838.5" x2="1647" y2="838.5" stroke="#c0c0c0" stroke-width="1" stroke-dasharray="3 3" stroke-dashoffset="-1"/>
<line x1="0" y1="899.5" x2="1647" y2="899.5" stroke="#c0c0c0" stroke-width="1" stroke-dasharray="3 3" stroke-dashoffset="-1"/>
<polyline points="-3.5,862.5 4.5,855.6 12.5,856.7 20.5,857.5 28.5,864.2 36.5,844.3 44.5,850.1 52.5,854.1 60.5,855.3 68.5,846.5 76.5,846.5 84.5,856.3 92.5,850.9 100.5,856.7 108.5,866.0 116.5,872.2 124.5,873.4 132.5,877.2 140.5,881.3 148.5,881.4 156.5,873.5 164.5,869.2 172.5,874.9 180.5,883.0 188.5,884.5 196.5,884.5 204.5,868.1 212.5,876.0 220.5,867.4 228.5,872.1 236.5,859.3 244.5,849.1 252.5,852.2 260.5,852.8 268.5,850.9 276.5,838.4 284.5,834.6 292.5,840.7 300.5,833.5 308.5,845.1 316.5,848.1 324.5,840.2 332.5,831.0 340.5,840.6 348.5,835.3 356.5,831.6 364.5,826.0 372.5,825.3 380.5,835.1 388.5,843.2 396.5,836.2 404.5,825.6 412.5,822.5 420.5,829.9 428.5,835.7 436.5,832.4 444.5,831.9 452.5,838.8 460.5,828.8 468.5,836.1 476.5,827.5 484.5,827.3 492.5,824.1 500.5,824.4 508.5,824.8 516.5,827.6 524.5,825.1 532.5,818.7 540.5,828.0 548.5,826.4 556.5,822.0 564.5,810.9 572.5,799.7 580.5,806.8 588.5,804.4 596.5,803.1 604.5,805.9 612.5,823.5 620.5,821.9 628.5,823.1 636.5,823.1 644.5,823.1 652.5,818.3 660.5,847.9 668.5,836.1 676.5,832.9 684.5,833.9 692.5,823.7 700.5,822.1 708.5,821.3 716.5,810.3 724.5,818.1 732.5,817.1 740.5,818.8 748.5,822.4 756.5,813.6 764.5,826.9 772.5,830.3 780.5,826.0 788.5,829.3 796.5,822.2 804.5,808.6 812.5,796.9 820.5,815.7 828.5,817.9 836.5,818.2 844.5,825.5 852.5,818.8 860.5,812.9 868.5,848.4 876.5,835.4 884.5,844.2 892.5,845.7 900.5,855.0 908.5,844.6 916.5,841.3 924.5,841.7 932.5,843.5 940.5,846.6 948.5,836.1 956.5,838.0 964.5,837.8 972.5,836.2 980.5,834.8 988.5,831.2 996.5,830.2 1004.5,832.4 1012.5,827.6 1020.5,834.7 1028.5,848.8 1036.5,834.0 1044.5,838.6 1052.5,838.4 1060.5,840.8 1068.5,844.1 1076.5,834.4 1084.5,831.2 1092.5,832.2 1100.5,844.2 1108.5,840.5 1116.5,848.2 1124.5,838.8 1132.5,836.8 1140.5,842.2 1148.5,847.3 1156.5,850.8 1164.5,859.0 1172.5,861.1 1180.5,862.3 1188.5,850.2 1196.5,837.6 1204.5,836.7 1212.5,836.7 1220.5,838.1 1228.5,830.6 1236.5,838.4 1244.5,850.4 1252.5,859.4 1260.5,859.4 1268.5,872.6 1276.5,880.4 1284.5,888.5 1292.5,891.5 1300.5,854.1 1308.5,858.3 1316.5,854.3 1324.5,854.3 1332.5,856.4 1340.5,844.9 1348.5,845.1 1356.5,854.0 1364.5,860.1 1372.5,853.3 1380.5,846.7 1388.5,850.3 1396.5,858.6 1404.5,855.3" fill="none" stroke="#1e90ff" stroke-width="1" />
</g>
<g shape-rendering="geometricPrecision"><line x1="1312" y1="848.5" x2="1409.0" y2="852.2" stroke="#ff0000" stroke-width="3"/><polygon points="1418,852.5 1405.8,857.0 1407.5,852.1 1406.2,847.1" fill="#ff0000" stroke="#ff0000" stroke-width="0.8" stroke-linejoin="round"/></g>
<rect x="1648" y="753" width="1" height="1" fill="#000"/>
<rect x="1648" y="924" width="1" height="1" fill="#000"/>
<text x="1651.2" y="761.7" font-size="9.5" fill="#000" stroke="#000" stroke-width="0.3" text-anchor="start" textLength="15.1" lengthAdjust="spacingAndGlyphs">100</text>
<text x="1650.2" y="790.8" font-size="9.5" fill="#000" stroke="#000" stroke-width="0.3" text-anchor="start" textLength="10.0" lengthAdjust="spacingAndGlyphs">80</text>
<text x="1650.2" y="841.8" font-size="9.5" fill="#000" stroke="#000" stroke-width="0.3" text-anchor="start" textLength="10.0" lengthAdjust="spacingAndGlyphs">50</text>
<text x="1650.6" y="902.8" font-size="9.5" fill="#000" stroke="#000" stroke-width="0.3" text-anchor="start" textLength="10.0" lengthAdjust="spacingAndGlyphs">15</text>
<text x="1651.2" y="921.8" font-size="9.5" fill="#000" stroke="#000" stroke-width="0.3" text-anchor="start" textLength="5.0" lengthAdjust="spacingAndGlyphs">0</text>
<text x="-12.6" y="937.7" font-size="9.5" fill="#000" stroke="#000" stroke-width="0.3" text-anchor="start" textLength="49.7" lengthAdjust="spacingAndGlyphs">14 Jan 2022</text>
<rect x="52" y="926" width="1" height="3" fill="#000"/>
<text x="51.4" y="937.7" font-size="9.5" fill="#000" stroke="#000" stroke-width="0.3" text-anchor="start" textLength="52.2" lengthAdjust="spacingAndGlyphs">19 Jan 16:00</text>
<rect x="116" y="926" width="1" height="3" fill="#000"/>
<text x="115.4" y="937.7" font-size="9.5" fill="#000" stroke="#000" stroke-width="0.3" text-anchor="start" textLength="52.2" lengthAdjust="spacingAndGlyphs">21 Jan 00:00</text>
<rect x="180" y="926" width="1" height="3" fill="#000"/>
<text x="179.4" y="937.7" font-size="9.5" fill="#000" stroke="#000" stroke-width="0.3" text-anchor="start" textLength="52.2" lengthAdjust="spacingAndGlyphs">24 Jan 08:00</text>
<rect x="244" y="926" width="1" height="3" fill="#000"/>
<text x="243.4" y="937.7" font-size="9.5" fill="#000" stroke="#000" stroke-width="0.3" text-anchor="start" textLength="52.2" lengthAdjust="spacingAndGlyphs">25 Jan 16:00</text>
<rect x="308" y="926" width="1" height="3" fill="#000"/>
<text x="307.4" y="937.7" font-size="9.5" fill="#000" stroke="#000" stroke-width="0.3" text-anchor="start" textLength="52.2" lengthAdjust="spacingAndGlyphs">27 Jan 00:00</text>
<rect x="372" y="926" width="1" height="3" fill="#000"/>
<text x="371.4" y="937.7" font-size="9.5" fill="#000" stroke="#000" stroke-width="0.3" text-anchor="start" textLength="52.2" lengthAdjust="spacingAndGlyphs">28 Jan 08:00</text>
<rect x="436" y="926" width="1" height="3" fill="#000"/>
<text x="435.4" y="937.7" font-size="9.5" fill="#000" stroke="#000" stroke-width="0.3" text-anchor="start" textLength="52.2" lengthAdjust="spacingAndGlyphs">31 Jan 16:00</text>
<rect x="500" y="926" width="1" height="3" fill="#000"/>
<text x="499.4" y="937.7" font-size="9.5" fill="#000" stroke="#000" stroke-width="0.3" text-anchor="start" textLength="48.2" lengthAdjust="spacingAndGlyphs">2 Feb 00:00</text>
<rect x="564" y="926" width="1" height="3" fill="#000"/>
<text x="563.4" y="937.7" font-size="9.5" fill="#000" stroke="#000" stroke-width="0.3" text-anchor="start" textLength="48.2" lengthAdjust="spacingAndGlyphs">3 Feb 08:00</text>
<rect x="628" y="926" width="1" height="3" fill="#000"/>
<text x="627.4" y="937.7" font-size="9.5" fill="#000" stroke="#000" stroke-width="0.3" text-anchor="start" textLength="48.2" lengthAdjust="spacingAndGlyphs">4 Feb 16:00</text>
<rect x="692" y="926" width="1" height="3" fill="#000"/>
<text x="691.4" y="937.7" font-size="9.5" fill="#000" stroke="#000" stroke-width="0.3" text-anchor="start" textLength="48.2" lengthAdjust="spacingAndGlyphs">8 Feb 00:00</text>
<rect x="756" y="926" width="1" height="3" fill="#000"/>
<text x="755.4" y="937.7" font-size="9.5" fill="#000" stroke="#000" stroke-width="0.3" text-anchor="start" textLength="48.2" lengthAdjust="spacingAndGlyphs">9 Feb 08:00</text>
<rect x="820" y="926" width="1" height="3" fill="#000"/>
<text x="819.4" y="937.7" font-size="9.5" fill="#000" stroke="#000" stroke-width="0.3" text-anchor="start" textLength="53.2" lengthAdjust="spacingAndGlyphs">10 Feb 16:00</text>
<rect x="884" y="926" width="1" height="3" fill="#000"/>
<text x="883.4" y="937.7" font-size="9.5" fill="#000" stroke="#000" stroke-width="0.3" text-anchor="start" textLength="53.2" lengthAdjust="spacingAndGlyphs">14 Feb 00:00</text>
<rect x="948" y="926" width="1" height="3" fill="#000"/>
<text x="947.4" y="937.7" font-size="9.5" fill="#000" stroke="#000" stroke-width="0.3" text-anchor="start" textLength="53.2" lengthAdjust="spacingAndGlyphs">15 Feb 08:00</text>
<rect x="1012" y="926" width="1" height="3" fill="#000"/>
<text x="1011.4" y="937.7" font-size="9.5" fill="#000" stroke="#000" stroke-width="0.3" text-anchor="start" textLength="53.2" lengthAdjust="spacingAndGlyphs">16 Feb 16:00</text>
<rect x="1076" y="926" width="1" height="3" fill="#000"/>
<text x="1075.4" y="937.7" font-size="9.5" fill="#000" stroke="#000" stroke-width="0.3" text-anchor="start" textLength="53.2" lengthAdjust="spacingAndGlyphs">18 Feb 00:00</text>
<rect x="1140" y="926" width="1" height="3" fill="#000"/>
<text x="1139.4" y="937.7" font-size="9.5" fill="#000" stroke="#000" stroke-width="0.3" text-anchor="start" textLength="53.2" lengthAdjust="spacingAndGlyphs">21 Feb 08:00</text>
<rect x="1204" y="926" width="1" height="3" fill="#000"/>
<text x="1203.4" y="937.7" font-size="9.5" fill="#000" stroke="#000" stroke-width="0.3" text-anchor="start" textLength="53.2" lengthAdjust="spacingAndGlyphs">22 Feb 16:00</text>
<rect x="1268" y="926" width="1" height="3" fill="#000"/>
<text x="1267.4" y="937.7" font-size="9.5" fill="#000" stroke="#000" stroke-width="0.3" text-anchor="start" textLength="53.2" lengthAdjust="spacingAndGlyphs">24 Feb 00:00</text>
<rect x="1332" y="926" width="1" height="3" fill="#000"/>
<text x="1331.4" y="937.7" font-size="9.5" fill="#000" stroke="#000" stroke-width="0.3" text-anchor="start" textLength="53.2" lengthAdjust="spacingAndGlyphs">25 Feb 08:00</text>
<rect x="1396" y="926" width="1" height="3" fill="#000"/>
<text x="1395.4" y="937.7" font-size="9.5" fill="#000" stroke="#000" stroke-width="0.3" text-anchor="start" textLength="53.2" lengthAdjust="spacingAndGlyphs">28 Feb 16:00</text>
<text x="3.2" y="35.9" font-size="9.5" fill="#000" stroke="#000" stroke-width="0.3" text-anchor="start" textLength="199.6" lengthAdjust="spacingAndGlyphs">GBPJPY-,H4&#160; 154.045 154.288 154.008 154.181</text>
<text x="-7.5" y="592.4" font-size="9.5" fill="#000" stroke="#000" stroke-width="0.3" text-anchor="start" textLength="133.4" lengthAdjust="spacingAndGlyphs">MACD(12,26,9) -0.3889 -0.4005</text>
<text x="-7.3" y="763.9" font-size="9.5" fill="#000" stroke="#000" stroke-width="0.3" text-anchor="start" textLength="67.1" lengthAdjust="spacingAndGlyphs">RSI(14) 40.4514</text>
<defs><linearGradient id="ps" x1="0" y1="0" x2="0" y2="1"><stop offset="0" stop-color="#ff5858"/><stop offset="1" stop-color="#e43636"/></linearGradient><linearGradient id="pp" x1="0" y1="0" x2="0" y2="1"><stop offset="0" stop-color="#dc3030"/><stop offset="1" stop-color="#b00000"/></linearGradient><linearGradient id="pb" x1="0" y1="0" x2="0" y2="1"><stop offset="0" stop-color="#f0f0f0"/><stop offset="0.45" stop-color="#e6e6e6"/><stop offset="0.5" stop-color="#d6d6d6"/><stop offset="1" stop-color="#cecece"/></linearGradient></defs>
<rect x="0" y="68" width="100" height="33" fill="url(#pp)"/>
<rect x="102" y="68" width="108" height="33" fill="url(#pp)"/>
<rect x="43" y="68" width="57" height="1" fill="#c00808"/><rect x="102" y="68" width="56" height="1" fill="#c00808"/>
<rect x="0" y="44" width="43" height="24" fill="url(#ps)"/><rect x="0" y="44" width="43" height="1" fill="#cc1010"/><rect x="42" y="44" width="1" height="25" fill="#cc1010"/>
<rect x="158" y="44" width="52" height="24" fill="url(#ps)"/><rect x="158" y="44" width="52" height="1" fill="#cc1010"/><rect x="158" y="44" width="1" height="25" fill="#cc1010"/><rect x="209" y="44" width="1" height="57" fill="#c41414"/>
<rect x="0" y="67" width="39" height="1" fill="#a80000"/><rect x="0" y="68" width="39" height="1" fill="#f46464"/>
<rect x="162" y="67" width="44" height="1" fill="#a80000"/><rect x="162" y="68" width="44" height="1" fill="#f46464"/>
<rect x="45.5" y="44.5" width="110" height="21" fill="#fff" stroke="#a4a8b4" stroke-width="1"/>
<rect x="47" y="46" width="18" height="18" fill="url(#pb)"/><rect x="66" y="45" width="1" height="20" fill="#a4a8b4"/>
<rect x="136" y="46" width="18" height="18" fill="url(#pb)"/><rect x="134" y="45" width="1" height="20" fill="#a4a8b4"/>
<path d="M53 53h5.4l-2.7 3.2z" fill="#4c60c4" shape-rendering="auto"/><path d="M141.8 56h5.400l-2.700-3.200z" fill="#4c60c4" shape-rendering="auto"/>
<text x="2.9" y="59.8" font-size="12" fill="#fff" textLength="26.2" lengthAdjust="spacingAndGlyphs">SELL</text>
<text x="171.5" y="59.8" font-size="12" fill="#fff" textLength="23.4" lengthAdjust="spacingAndGlyphs">BUY</text>
<text x="107.3" y="59.1" font-size="12.300" fill="#000" stroke="#000" stroke-width="0.25" textLength="23.6" lengthAdjust="spacingAndGlyphs">1.00</text>
<text x="14.3" y="96" font-size="12" font-weight="bold" fill="#fff" textLength="20.4" lengthAdjust="spacingAndGlyphs">154</text>
<text x="38.6" y="96.3" font-size="34" fill="#fff" textLength="35.5" lengthAdjust="spacingAndGlyphs">18</text>
<text x="77.4" y="79.9" font-size="11.500" font-weight="bold" fill="#fff" style="font-family:'DejaVu Sans','Liberation Sans',sans-serif">1</text>
<text x="124.3" y="96" font-size="12" font-weight="bold" fill="#fff" textLength="20.4" lengthAdjust="spacingAndGlyphs">154</text>
<text x="148.7" y="96.3" font-size="34" fill="#fff" textLength="36.5" lengthAdjust="spacingAndGlyphs">48</text>
<text x="188.6" y="79.9" font-size="11.500" font-weight="bold" fill="#fff" style="font-family:'DejaVu Sans','Liberation Sans',sans-serif">1</text>
</svg>
</body></html>
